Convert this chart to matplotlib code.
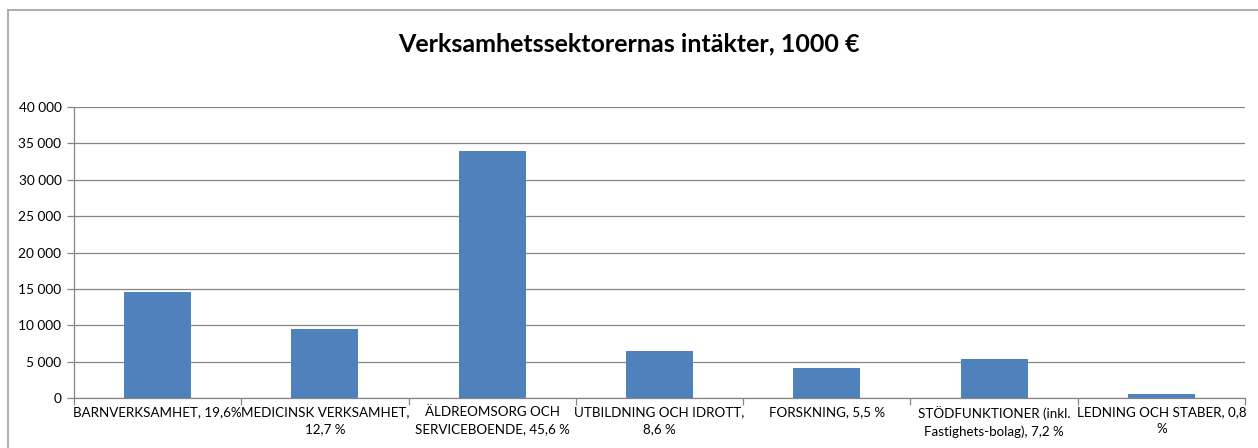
import matplotlib.pyplot as plt
from matplotlib.lines import Line2D
from matplotlib.ticker import FuncFormatter, MultipleLocator

plt.rcParams['font.family'] = ['Lato', 'DejaVu Sans']

categories = [
    'BARNVERKSAMHET, 19,6%',
    'MEDICINSK VERKSAMHET,\n12,7 %',
    'ÄLDREOMSORG OCH\nSERVICEBOENDE, 45,6 %',
    'UTBILDNING OCH IDROTT,\n8,6 %',
    'FORSKNING, 5,5 %',
    'STÖDFUNKTIONER (inkl.\nFastighets-bolag), 7,2 %',
    'LEDNING OCH STABER, 0,8\n%',
]
values = [14590, 9455, 33950, 6400, 4095, 5360, 596]

bar_color = '#4F81BD'
grid_color = '#868686'

fig = plt.figure(figsize=(12.58, 4.48), dpi=100)
ax = fig.add_axes([74 / 1258, 1 - 398 / 448, (1245 - 74) / 1258, (398 - 107) / 448])

x = range(len(categories))
ax.bar(x, values, width=0.4, color=bar_color, zorder=3)

ax.set_xlim(-0.5, len(categories) - 0.5)
ax.set_ylim(0, 40000)
ax.yaxis.set_major_locator(MultipleLocator(5000))
ax.yaxis.set_major_formatter(FuncFormatter(lambda v, p: f'{int(v):,}'.replace(',', ' ')))
ax.grid(axis='y', color=grid_color, linewidth=0.9, zorder=0)

ax.set_xticks(list(x))
ax.set_xticklabels(categories, fontsize=9.6, linespacing=1.45)
ax.tick_params(axis='x', length=0, pad=6)
# category boundary ticks
ax.set_xticks([i - 0.5 for i in range(len(categories) + 1)], minor=True)
ax.tick_params(axis='x', which='minor', length=5, color=grid_color, width=0.9)
ax.tick_params(axis='y', labelsize=9.9, length=5, color=grid_color, width=0.9, pad=4)

for side in ['top', 'right']:
    ax.spines[side].set_visible(False)
for side in ['left', 'bottom']:
    ax.spines[side].set_color(grid_color)
    ax.spines[side].set_linewidth(0.9)

fig.text(0.5, 1 - 44 / 448, 'Verksamhetssektorernas intäkter, 1000 €',
         ha='center', va='center', fontsize=18, fontweight='bold')

# chart frame (top and left edges visible)
fig.add_artist(Line2D([8 / 1258, 1], [1 - 10 / 448, 1 - 10 / 448], color='#A0A0A0', linewidth=1.2))
fig.add_artist(Line2D([8 / 1258, 8 / 1258], [0, 1 - 10 / 448], color='#A0A0A0', linewidth=1.2))

fig.savefig('out.png', dpi=100)
